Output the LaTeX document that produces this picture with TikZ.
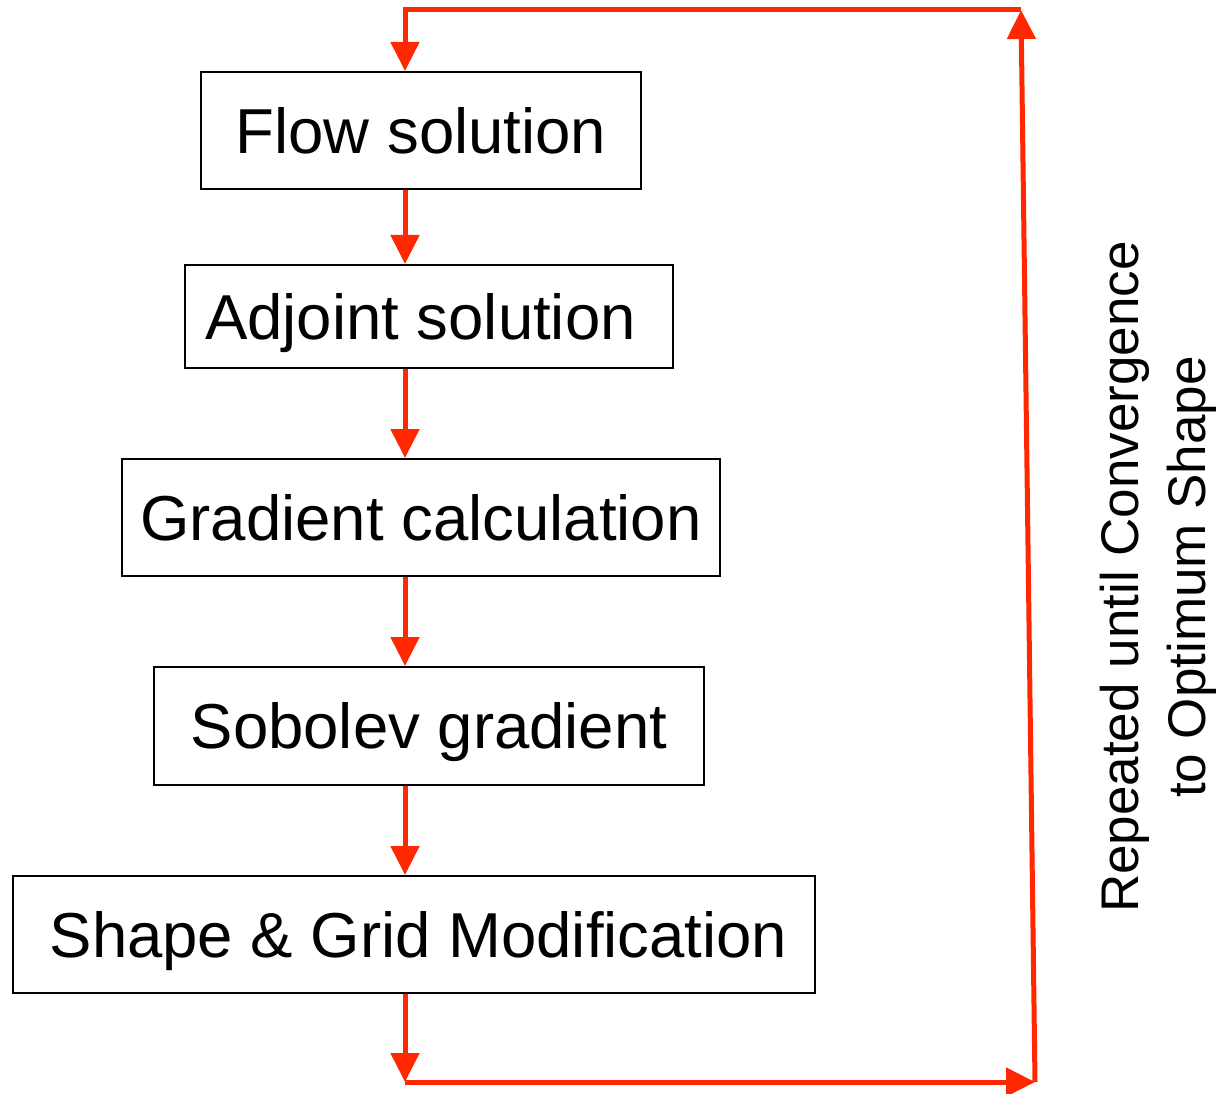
\documentclass[tikz,border=0pt]{standalone}
\usepackage{fontspec}
\setmainfont{Liberation Sans}
\usetikzlibrary{arrows.meta}

\definecolor{loopred}{RGB}{255,40,0}

\tikzset{
  stepbox/.style={draw=black, line width=2pt, inner sep=0pt,
    text height=45.5pt, text depth=0pt,
    font=\fontsize{63.5}{76}\selectfont},
  flowarrow/.style={draw=loopred, line width=5pt,
    -{Triangle[length=29pt,width=28pt]}},
  looptext/.style={rotate=90, align=center, inner sep=0pt,
    font=\fontsize{53}{67}\selectfont}
}

\begin{document}
\begin{tikzpicture}[x=1pt,y=-1pt]
  \useasboundingbox (0,0) rectangle (1218,1094);

  % process steps
  \node[stepbox, minimum width=440pt, minimum height=117pt] (flow) at (421,130.5) {Flow solution};
  \node[stepbox, minimum width=488pt, minimum height=103pt] (adj) at (429,316.5) {Adjoint solution\hspace*{17pt}};
  \node[stepbox, minimum width=598pt, minimum height=117pt] (grad) at (421,517.5) {Gradient calculation};
  \node[stepbox, minimum width=550pt, minimum height=118pt] (sob) at (429,726) {Sobolev gradient};
  \node[stepbox, minimum width=802pt, minimum height=117pt] (shape) at (414,934.5) {\hspace*{9pt}Shape \& Grid Modification};

  % loop geometry
  \coordinate (spine) at (405,0);
  \coordinate (bl) at (405,1082);
  \coordinate (br) at (1035,1082);
  \coordinate (tr) at (1021,10);
  \coordinate (tl) at (405,10);

  % arrows between steps
  \draw[flowarrow] (spine |- flow.south) -- (spine |- adj.north);
  \draw[flowarrow] (spine |- adj.south) -- (spine |- grad.north);
  \draw[flowarrow] (spine |- grad.south) -- (spine |- sob.north);
  \draw[flowarrow] (spine |- sob.south) -- (spine |- shape.north);

  % feedback loop
  \draw[flowarrow] (spine |- shape.south) -- (bl);
  \draw[flowarrow] (bl) -- (br);
  \draw[flowarrow] (br) -- (tr);
  \draw[flowarrow, line join=miter] (tr) -- (tl) -- (spine |- flow.north);

  % loop caption
  \node[looptext] (note) at (1158,577) {Repeated until Convergence\\to Optimum Shape};
\end{tikzpicture}
\end{document}
